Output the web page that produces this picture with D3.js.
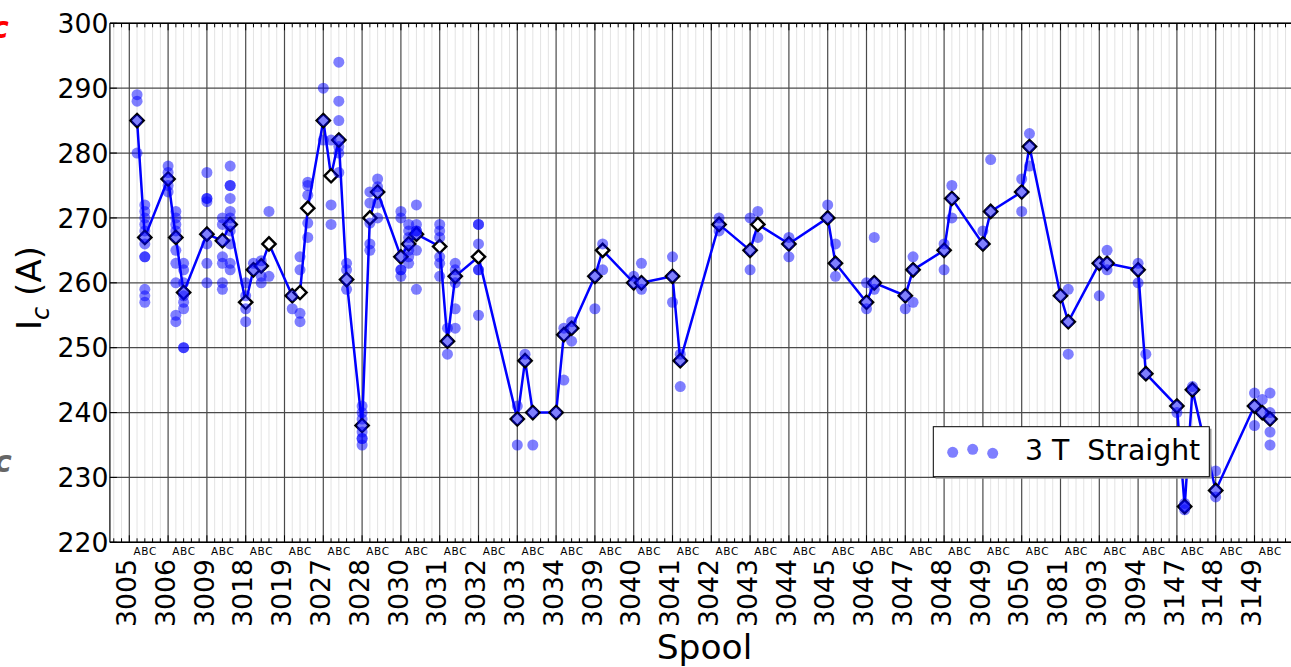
<!DOCTYPE html>
<html>
<head>
<meta charset="utf-8">
<script src="https://cdn.jsdelivr.net/npm/d3@7"></script>
<style>
  body { margin: 0; background: #fff; }
  svg { font-family: "DejaVu Sans", sans-serif; }
</style>
</head>
<body>
<svg id="chart" width="1291" height="667"></svg>
<script>
// spool names, one major tick each
const spools = ['3005','3006','3009','3018','3019','3027','3028','3030','3031','3032',
  '3033','3034','3039','3040','3041','3042','3043','3044','3045','3046',
  '3047','3048','3049','3050','3081','3093','3094','3147','3148','3149'];
const subLabels = ['A', 'B', 'C'];

// position of each measured section (spool index + sub offset) and its mean Ic
const meanPos = [0.2,0.4, 1.0,1.2,1.4, 2.0,2.4,2.6, 3.0,3.2,3.4,3.6, 4.2,4.4,4.6,
  5.0,5.2,5.4,5.6, 6.0,6.2,6.4, 7.0,7.2,7.4, 8.0,8.2,8.4, 9.0, 10.0,10.2,10.4,
  11.0,11.2,11.4, 12.0,12.2, 13.0,13.2, 14.0,14.2, 15.2, 16.0,16.2, 17.0,
  18.0,18.2, 19.0,19.2, 20.0,20.2, 21.0,21.2, 22.0,22.2, 23.0,23.2, 24.0,24.2,
  25.0,25.2, 26.0,26.2, 27.0,27.2,27.4, 28.0, 29.0,29.2,29.4];
const meanIc = [285,267, 276,267,258.5, 267.5,266.5,269, 257,262,262.6,266, 258,258.5,271.5,
  285,276.5,282,260.5, 238,270,274, 264,266,267.5, 265.6,251,261, 264, 239,248,240,
  240,252,253, 261,265, 260,260, 261,248, 269, 265,269, 266,
  270,263, 257,260, 258,262, 265,273, 266,271, 274,281, 258,254,
  263,263, 262,246, 241,225.5,243.5, 228, 241,240,239];

// individual measurements for each section (same order as meanPos)
const sampleIc = [
  [289,288,285,280],
  [272,271,270,269,268,267,266,264,264,259,258,257],
  [278,277,276,275,274],
  [271,270,269,268,267,265,263,260,255,254],
  [263,262,260,258.5,258,257,256,250,250],
  [277,273,273,272.5,267.5,266,263,260],
  [270,269,266.5,264,263,260,259],
  [278,275,275,273,271,270,269,268,266,263,262],
  [260,258,256,254],
  [263,262],
  [263.4,262.6,261,260],
  [271,261],
  [258,256],
  [264,262,255.3,254],
  [275.5,275,273.5,269.2,267],
  [290,285,282],
  [282,272,269],
  [294,288,285,282,281,280,277],
  [263,262,260.5,259],
  [241,240,239,238,237,236,236,235],
  [274,272.3,269.2,266,265],
  [276,274.8,274,272.3,270],
  [271,270,264,262,262,261],
  [269,268,267,266,265,264,263],
  [272,269,268,268,267.5,265,259],
  [269,268,267,264,263,261],
  [253,251,249],
  [263,262,261,260,256,253],
  [269,269,266,262,262,255],
  [241,239,235],
  [249,248],
  [240,235],
  [240],
  [253,252,245],
  [254,253,251],
  [261,256],
  [266,262],
  [261,260],
  [263,260,259],
  [264,261,257],
  [249,248,244],
  [270,269,268],
  [270,265,262],
  [271,267],
  [267,266,264],
  [272,270],
  [266,263,261],
  [260,257,256],
  [267,260,259],
  [258,256],
  [264,262,257],
  [266,265,262],
  [275,273,270],
  [268,266],
  [279,271],
  [276,274,271],
  [283,281,278],
  [258],
  [259,254,249],
  [263,258],
  [265,263,262],
  [263,262,260],
  [249,246],
  [241,240],
  [226,225.5,225],
  [244,243.5],
  [231,228,227],
  [243,241,238],
  [242,240],
  [243,240,239,237,235]
];

const yTicks = d3.range(220, 301, 10);
const legendLabel = '3 T  Straight';

const svg = d3.select('#chart');
const margin = {top: 23.3, left: 109.9, bottom: 542.3};

const x = d3.scaleLinear().domain([-0.5, 30]).range([margin.left, 1293.3]);
const y = d3.scaleLinear().domain([220, 300]).range([margin.bottom, margin.top]);

const plot = svg.append('g');

// minor grid, every 0.2 spool
const minorList = [];
for (let i = 0; i <= spools.length; i++) {
  for (let k = 1; k < 5; k++) {
    const v = i - 1 + k / 5;
    if (v > -0.5 && v < 30) minorList.push(v);
  }
}
plot.selectAll('.minor')
  .data(minorList)
  .enter().append('line')
  .attr('x1', d => x(d)).attr('x2', d => x(d))
  .attr('y1', y(300)).attr('y2', y(220))
  .attr('stroke', '#e3e3e3').attr('stroke-width', 1);

// major grid
plot.selectAll('.vmajor')
  .data(d3.range(spools.length))
  .enter().append('line')
  .attr('x1', d => x(d)).attr('x2', d => x(d))
  .attr('y1', y(300)).attr('y2', y(220))
  .attr('stroke', '#4a4a4a').attr('stroke-width', 1.2);

plot.selectAll('.hmajor')
  .data(yTicks)
  .enter().append('line')
  .attr('x1', x.range()[0]).attr('x2', x.range()[1])
  .attr('y1', d => y(d)).attr('y2', d => y(d))
  .attr('stroke', '#4a4a4a').attr('stroke-width', 1.2);

// mean line
const meanData = meanPos.map((p, i) => ({p: p, v: meanIc[i]}));
plot.append('path')
  .datum(meanData)
  .attr('fill', 'none')
  .attr('stroke', '#0000ff')
  .attr('stroke-width', 2.5)
  .attr('d', d3.line().x(d => x(d.p)).y(d => y(d.v)));

// diamonds
const diamond = d3.symbol().type(d3.symbolSquare).size(88);
plot.selectAll('.mean')
  .data(meanData)
  .enter().append('path')
  .attr('d', diamond)
  .attr('transform', d => `translate(${x(d.p)},${y(d.v)}) rotate(45)`)
  .attr('fill', '#fff')
  .attr('stroke', '#000')
  .attr('stroke-width', 2.4);

// scatter of individual measurements
const dots = [];
sampleIc.forEach((list, i) => list.forEach(v => dots.push({p: meanPos[i], v: v})));
plot.selectAll('.dot')
  .data(dots)
  .enter().append('circle')
  .attr('cx', d => x(d.p))
  .attr('cy', d => y(d.v))
  .attr('r', 5.5)
  .attr('fill', '#0000ff')
  .attr('fill-opacity', 0.5);

// frame
svg.append('line').attr('x1', margin.left).attr('x2', margin.left)
  .attr('y1', margin.top).attr('y2', margin.bottom).attr('stroke', '#000').attr('stroke-width', 1.2);
svg.append('line').attr('x1', margin.left).attr('x2', 1291)
  .attr('y1', margin.bottom).attr('y2', margin.bottom).attr('stroke', '#000').attr('stroke-width', 1.4);
svg.append('line').attr('x1', margin.left).attr('x2', 1291)
  .attr('y1', margin.top).attr('y2', margin.top).attr('stroke', '#000').attr('stroke-width', 1.4);

// tick marks (inward)
svg.selectAll('.xt')
  .data(minorList.concat(d3.range(spools.length)))
  .enter().append('g')
  .each(function(d) {
    const len = Number.isInteger(d) ? 7 : 4;
    d3.select(this).append('line')
      .attr('x1', x(d)).attr('x2', x(d)).attr('y1', margin.bottom).attr('y2', margin.bottom - len)
      .attr('stroke', '#000');
    d3.select(this).append('line')
      .attr('x1', x(d)).attr('x2', x(d)).attr('y1', margin.top).attr('y2', margin.top + len)
      .attr('stroke', '#000');
  });
svg.selectAll('.yt')
  .data(yTicks)
  .enter().append('line')
  .attr('x1', margin.left).attr('x2', margin.left + 7)
  .attr('y1', d => y(d)).attr('y2', d => y(d))
  .attr('stroke', '#000');

// y tick labels
svg.selectAll('.ylab')
  .data(yTicks)
  .enter().append('text')
  .attr('x', 108.5)
  .attr('y', d => y(d))
  .attr('dy', '0.36em')
  .attr('text-anchor', 'end')
  .style('font-size', '26.7px')
  .text(d => d);

// spool labels (rotated)
svg.selectAll('.xlab')
  .data(spools)
  .enter().append('text')
  .attr('transform', (d, i) => `translate(${x(i)},559) rotate(-90)`)
  .attr('dy', '0.25em')
  .attr('text-anchor', 'end')
  .style('font-size', '26.7px')
  .text(d => d);

// A B C sub labels
const subData = [];
spools.forEach((s, i) => subLabels.forEach((l, k) => subData.push({p: i + 0.2 * (k + 1), l: l})));
svg.selectAll('.sub')
  .data(subData)
  .enter().append('text')
  .attr('x', d => x(d.p))
  .attr('y', 554.5)
  .attr('text-anchor', 'middle')
  .style('font-size', '10.5px')
  .text(d => d.l);

// axis titles
svg.append('text')
  .attr('x', 704.5)
  .attr('y', 658.5)
  .attr('text-anchor', 'middle')
  .style('font-size', '34.5px')
  .text('Spool');

const yl = svg.append('text')
  .attr('transform', 'translate(41,288) rotate(-90)')
  .attr('text-anchor', 'middle')
  .style('font-size', '34px');
yl.append('tspan').text('I');
yl.append('tspan').attr('font-style', 'italic').attr('dy', 8).style('font-size', '24px').text('c');
yl.append('tspan').attr('dy', -8).text(' (A)');

// legend
const lg = svg.append('g');
lg.append('rect').attr('x', 935.5).attr('y', 428.7).attr('width', 276).attr('height', 50)
  .attr('fill', '#999');
lg.append('rect').attr('x', 933.3).attr('y', 426.7).attr('width', 276).attr('height', 50)
  .attr('fill', '#fff').attr('stroke', '#000').attr('stroke-width', 1);
const legDots = [[952.7, 452.3], [972.7, 449.3], [992.7, 453.3]];
lg.selectAll('circle')
  .data(legDots)
  .enter().append('circle')
  .attr('cx', d => d[0]).attr('cy', d => d[1]).attr('r', 5.5)
  .attr('fill', '#0000ff').attr('fill-opacity', 0.5);
lg.append('text').attr('x', 1025).attr('y', 459.5)
  .style('font-size', '28.3px')
  .style('white-space', 'pre')
  .attr('xml:space', 'preserve')
  .text(legendLabel);

// fragments of neighbouring labels cut at the left edge (as in the reference)
svg.append('text').attr('x', -9).attr('y', 38).attr('fill', '#f00')
  .style('font-size', '30px').style('font-weight', 'bold').style('font-style', 'italic').text('c');
svg.append('text').attr('x', -6).attr('y', 472).attr('fill', '#666')
  .style('font-size', '30px').style('font-weight', 'bold').style('font-style', 'italic').text('c');
</script>
</body>
</html>
